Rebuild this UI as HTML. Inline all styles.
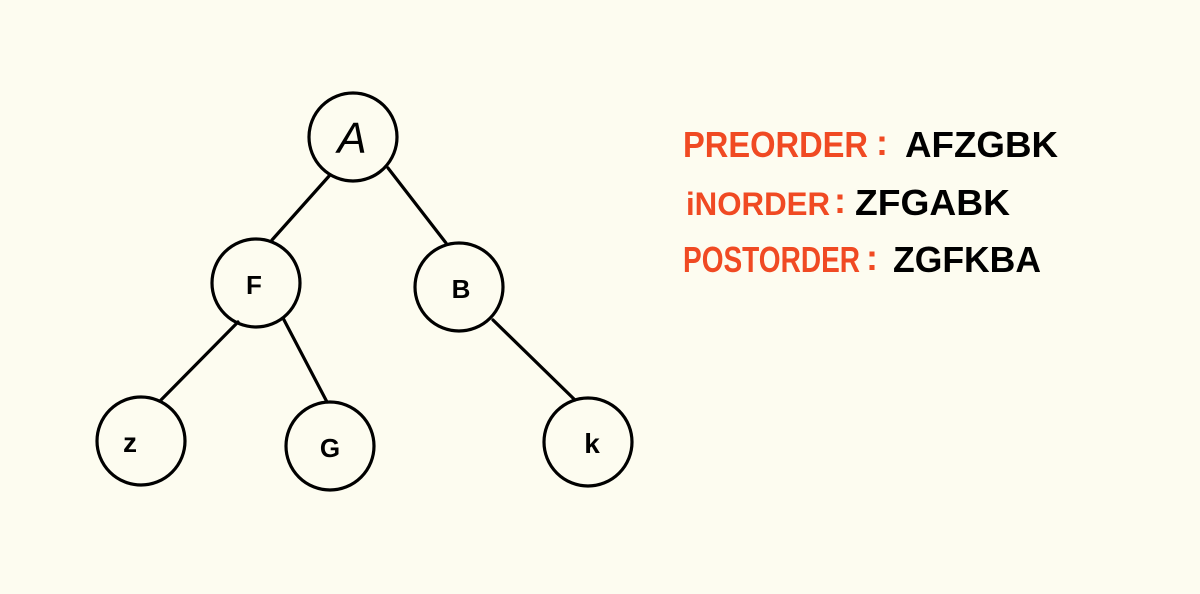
<!DOCTYPE html>
<html><head><style>
html,body{margin:0;padding:0;background:#fdfcf0;}
svg{display:block}
text{font-family:"Liberation Sans",sans-serif;}
</style></head><body>
<svg width="1200" height="594" viewBox="0 0 1200 594">
<rect width="1200" height="594" fill="#fdfcf0"/>
<g stroke="#000" stroke-width="3.2" fill="none" stroke-linecap="round">
<line x1="330" y1="175" x2="272" y2="240"/>
<line x1="388" y1="168" x2="446" y2="243"/>
<line x1="238" y1="322" x2="160" y2="401"/>
<line x1="283" y1="318" x2="327" y2="402"/>
<line x1="493" y1="320" x2="575" y2="400"/>
<circle cx="353" cy="137" r="44"/>
<circle cx="256" cy="283" r="44"/>
<circle cx="459" cy="287" r="44"/>
<circle cx="141" cy="441" r="44"/>
<circle cx="330" cy="446" r="44"/>
<circle cx="588" cy="442" r="44"/>
</g>
<g fill="#000" text-anchor="middle" font-weight="bold">
<text x="352" y="153" font-size="44" font-style="italic" font-weight="normal">A</text>
<text x="254" y="294" font-size="26">F</text>
<text x="461" y="298" font-size="26">B</text>
<text x="130" y="452" font-size="28">z</text>
<text x="330" y="457" font-size="26">G</text>
<text x="592" y="453" font-size="28">k</text>
</g>
<g font-size="36" font-weight="bold">
<text x="683" y="157" fill="#f04a23" textLength="185" lengthAdjust="spacingAndGlyphs">PREORDER</text>
<text x="876" y="155" fill="#f04a23">:</text>
<text x="905" y="157" fill="#000" textLength="153" lengthAdjust="spacingAndGlyphs">AFZGBK</text>
<text x="686" y="215" fill="#f04a23" textLength="144" lengthAdjust="spacingAndGlyphs" font-size="32">iNORDER</text>
<text x="834" y="213" fill="#f04a23">:</text>
<text x="855" y="215" fill="#000" textLength="155" lengthAdjust="spacingAndGlyphs">ZFGABK</text>
<text x="683" y="272" fill="#f04a23" textLength="177" lengthAdjust="spacingAndGlyphs">POSTORDER</text>
<text x="866" y="270" fill="#f04a23">:</text>
<text x="893" y="272" fill="#000" textLength="148" lengthAdjust="spacingAndGlyphs">ZGFKBA</text>
</g>
</svg>
</body></html>
